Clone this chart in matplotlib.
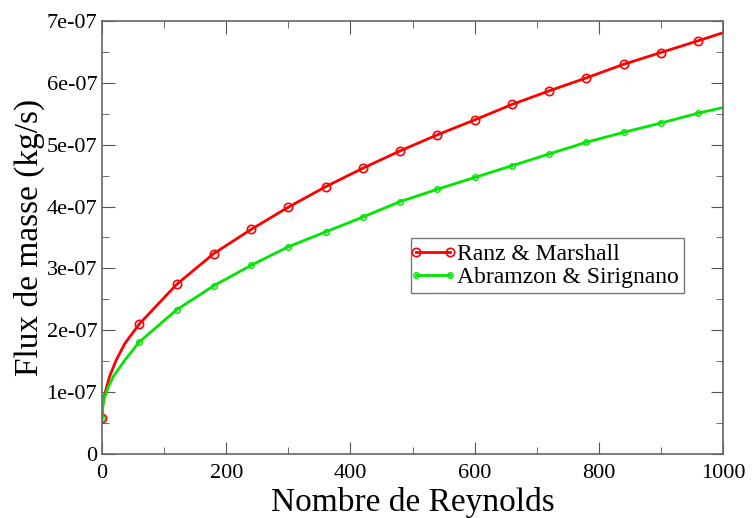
import numpy as np
import matplotlib.pyplot as plt
from matplotlib.ticker import FuncFormatter, MultipleLocator

plt.rcParams['font.family'] = 'serif'
plt.rcParams['font.serif'] = ['Liberation Serif', 'DejaVu Serif']

# Values (flux in units of 1e-07 kg/s)
re_ranz = [0, 1, 2, 5, 12, 23, 37, 60, 120, 180, 240, 300, 360, 420, 480,
           540, 600, 660, 720, 780, 840, 900, 960, 1000]
ranz = [0.58, 0.77, 0.86, 0.99, 1.25, 1.52, 1.79, 2.10, 2.74, 3.24, 3.63,
        3.99, 4.32, 4.62, 4.90, 5.16, 5.40, 5.65, 5.87, 6.08, 6.30, 6.49,
        6.68, 6.81]

re_abramzon = [0, 1, 2, 4, 9, 18, 37, 60, 120, 180, 240, 300, 360, 420, 480,
               540, 600, 660, 720, 780, 840, 900, 960, 1000]
abramzon = [0.58, 0.74, 0.81, 0.91, 1.06, 1.25, 1.52, 1.81, 2.33, 2.72, 3.05,
            3.35, 3.59, 3.83, 4.08, 4.28, 4.47, 4.66, 4.85, 5.04, 5.20, 5.35,
            5.51, 5.60]

marker_re = [0, 60, 120, 180, 240, 300, 360, 420, 480, 540, 600, 660, 720,
             780, 840, 900, 960]

RED = '#ff0000'
GREEN = '#00e600'


def yfmt(v, pos):
    if abs(v) < 1e-12:
        return '0'
    return '%de-07' % round(v * 1e7)


fig = plt.figure(figsize=(7.54, 5.18), dpi=100)
ax = fig.add_axes([0.1353, 0.1236, 0.8236, 0.8359])

ax.plot(re_ranz, np.array(ranz) * 1e-7, color=RED, lw=2, marker='o',
        markevery=[re_ranz.index(r) for r in marker_re], ms=6,
        mfc='none', mec=RED, mew=1.2, label='Ranz & Marshall')
ax.plot(re_abramzon, np.array(abramzon) * 1e-7, color=GREEN, lw=2, marker='o',
        markevery=[re_abramzon.index(r) for r in marker_re], ms=4,
        mfc='none', mec=GREEN, mew=1.0, label='Abramzon & Sirignano')

ax.set_xlim(0, 1000)
ax.set_ylim(0, 7e-7)
ax.xaxis.set_major_locator(MultipleLocator(200))
ax.xaxis.set_minor_locator(MultipleLocator(100))
ax.yaxis.set_major_locator(MultipleLocator(1e-7))
ax.yaxis.set_minor_locator(MultipleLocator(0.5e-7))
ax.yaxis.set_major_formatter(FuncFormatter(yfmt))

ax.tick_params(which='both', direction='in', top=True, right=True,
               labelsize=16, color='#555555')
ax.tick_params(which='major', length=9)
ax.tick_params(which='minor', length=5)
ax.tick_params(axis='x', pad=7)
for s in ax.spines.values():
    s.set_color('#666666')
    s.set_linewidth(1.2)

ax.set_xlabel('Nombre de Reynolds', fontsize=24, labelpad=3)
ax.set_ylabel('Flux de masse (kg/s)', fontsize=24, labelpad=1)

leg = ax.legend(loc='upper left', bbox_to_anchor=(0.498, 0.498), fontsize=17,
                frameon=True, fancybox=False, edgecolor='#555555',
                handlelength=1.4, handletextpad=0.3, borderpad=0.22,
                labelspacing=0.05, borderaxespad=0)
leg.get_frame().set_linewidth(1.0)
for h in leg.legend_handles:
    h.set_markevery([0, -1])

fig.savefig('out.png', dpi=100)
